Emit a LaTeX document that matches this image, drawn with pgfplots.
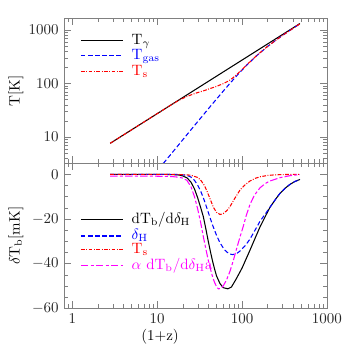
\documentclass[border=0pt]{standalone}
\usepackage{pgfplots}
\pgfplotsset{compat=1.18}
\definecolor{mag}{RGB}{255,0,255}
\definecolor{pblue}{RGB}{0,0,255}
\definecolor{pred}{RGB}{255,0,0}
\tikzset{
  lw/.style={line width=0.7pt},
  dsh/.style={dash pattern=on 3pt off 1.7pt},
  dd/.style={dash pattern=on 2.5pt off 1pt on 0.6pt off 1pt},
  ldd/.style={dash pattern=on 5pt off 1.5pt on 2pt off 1.5pt},
  key/.style={anchor=base west, inner sep=0pt, xshift=33.6pt, yshift=-2.4pt},
}
\begin{document}
\begin{tikzpicture}
\path[use as bounding box] (-42.7pt,-25.1pt) rectangle (188pt,205.5pt);
\pgfplotsset{
  panel/.style={
    scale only axis, width=175.3pt, height=96.7pt,
    xmin=0.8, xmax=1000,
    log ticks with fixed point,
    /pgf/number format/1000 sep={},
    axis line style={black!50},
    tick style={black!50},
    major tick length=4.5pt, minor tick length=2.5pt,
    tick label style={black!85},
    clip=false,
    ylabel style={at={(axis description cs:-0.183,0.5)}, anchor=center},
  },
}

% top panel: temperatures
\begin{axis}[xmode=log, ymode=log, panel, at={(0,96.7pt)}, anchor=south west,
  ymin=3.25, ymax=1650,
  xticklabels={},
  ylabel={T[K]},
]
\addplot[color=black, lw] coordinates {
  (2.8,7.63) (5,13.63) (10,27.25) (20,54.5) (50,136.25) (100,272.5) (200,545) (300,817.5) (480,1308)};
% T_gas starts at the lower edge of the panel
\addplot[color=pblue, lw, dsh] coordinates {
  (11.8,3.25) (12,3.31) (13,3.86) (15,5.08) (20,8.85) (24.4,13.0) (30,19.3) (38.4,30.9)
  (40,33.5) (50,51.0) (60,71.7) (70,95.1) (80,120.9) (90,148.5) (100,177.8) (120,238.8)
  (150,333) (200,490) (250,640.7) (300,787) (400,1071) (480,1294)};
\addplot[color=pred, lw, dd] coordinates {
  (2.8,7.63) (5,13.63) (10,27.25) (15,40.8) (18,48.3) (20,52.5) (22.5,57) (25,61)
  (30,67.5) (35,72.5) (40,78) (50,88) (60,99) (70,112) (80,131) (90,155) (100,181)
  (120,241) (150,335) (200,491) (300,788) (480,1295)};
% legend: all key lines first, then the coloured texts
\draw[black, lw] (axis description cs:0.0645,0.846) -- ++(28pt,0pt);
\draw[pblue, lw, dsh] (axis description cs:0.0645,0.740) -- ++(28pt,0pt);
\draw[pred, lw, dd] (axis description cs:0.0645,0.632) -- ++(28pt,0pt);
\node[key, text=black] at (axis description cs:0.0645,0.846) {$\mathrm{T_\gamma}$};
\node[key, text=pblue] at (axis description cs:0.0645,0.740) {$\mathrm{T_{gas}}$};
\node[key, text=pred] at (axis description cs:0.0645,0.632) {$\mathrm{T_s}$};
\end{axis}

% bottom panel: brightness temperature
\begin{axis}[xmode=log, panel, at={(0,0)}, anchor=south west,
  ymin=-60, ymax=5, ytick={-60,-40,-20,0}, minor y tick num=3,
  xlabel={(1+z)},
  xlabel style={at={(axis description cs:0.365,-0.196)}, anchor=center},
  ylabel={$\delta\mathrm{T_b}[\mathrm{mK}]$},
]
\addplot[color=black, lw] coordinates {
  (2.8,0) (5,0) (10,0) (15,-0.1) (18,-0.3) (20,-0.7) (22.5,-1.6) (25,-3.5) (27.5,-6.5)
  (30,-10.5) (32.5,-14.8) (35,-19) (37.5,-24.5) (40,-30) (42.5,-34.8) (45,-39)
  (47.5,-42.5) (50,-45.5) (55,-49) (60,-50.8) (68,-51.3) (75,-50.5) (85,-47)
  (100,-42) (124,-34) (140,-29.3) (163,-23.5) (190,-18.5) (213,-14.8) (250,-11)
  (280,-8.5) (320,-6.3) (367,-4.5) (420,-3.2) (480,-2.3)};
\addplot[color=pblue, lw, dsh] coordinates {
  (2.8,0) (10,0) (15,0) (20,-0.2) (22.5,-0.5) (25,-1.2) (27.5,-2.7) (30,-4.8)
  (32.5,-7.5) (35,-10.5) (37.5,-13.8) (40,-17) (42.5,-20) (45,-22.8) (50,-27.3)
  (55,-30.7) (62,-33.8) (70,-35.6) (78,-36) (88,-35.3) (95,-34.3) (110,-31.8)
  (124,-29) (140,-25.5) (163,-21) (190,-17.5) (213,-14.8) (250,-11) (280,-8.5)
  (320,-6.3) (367,-4.5) (420,-3.2) (480,-2.3)};
\addplot[color=pred, lw, dd] coordinates {
  (2.8,0) (10,0) (20,-0.1) (25,-0.4) (30,-1.4) (33,-2.9) (36,-5) (38.4,-7.3)
  (42,-11) (46,-14.8) (50,-17) (55,-18) (60,-17.6) (66,-16.3) (72,-14.5) (82,-10.8)
  (94.7,-7) (110,-4.5) (124,-3) (145,-1.7) (163,-1.1) (200,-0.5) (240,-0.25)
  (300,-0.1) (480,0)};
\addplot[color=mag, lw, ldd] coordinates {
  (2.8,-0.8) (5,-0.8) (10,-0.85) (15,-1.0) (18,-1.3) (20,-1.7) (22.4,-2.7) (25,-5.5)
  (27.5,-10) (30,-15.5) (32.5,-21.5) (35,-28) (37.5,-33.5) (40,-38.5) (42.5,-42.5)
  (45,-46) (47.5,-48.5) (50,-50.3) (52.6,-51.3) (56,-51.2) (60,-50) (65.7,-47.3)
  (72,-43.5) (78.7,-38.8) (86,-33.5) (94.7,-28) (103,-23.5) (112,-18.5) (124,-13.5)
  (140,-9.3) (163,-6) (190,-4) (213,-3) (280,-1.5) (367,-0.6) (480,-0.1)};
% legend: all key lines first, then the coloured texts
\draw[black, lw] (axis description cs:0.0645,0.609) -- ++(28pt,0pt);
\draw[pblue, lw, dsh] (axis description cs:0.0645,0.498) -- ++(28pt,0pt);
\draw[pred, lw, dd] (axis description cs:0.0645,0.402) -- ++(28pt,0pt);
\draw[mag, lw, ldd] (axis description cs:0.0645,0.292) -- ++(28pt,0pt);
\node[key, text=black] at (axis description cs:0.0645,0.609) {$\mathrm{dT_b/d}\delta_\mathrm{H}$};
\node[key, text=pblue] at (axis description cs:0.0645,0.498) {$\delta_\mathrm{H}$};
\node[key, text=pred] at (axis description cs:0.0645,0.402) {$\mathrm{T_s}$};
\node[key, text=mag] at (axis description cs:0.0645,0.292) {$\alpha\ \mathrm{dT_b/d}\delta_\mathrm{H}\mathrm{a}$};
\end{axis}
\end{tikzpicture}
\end{document}
